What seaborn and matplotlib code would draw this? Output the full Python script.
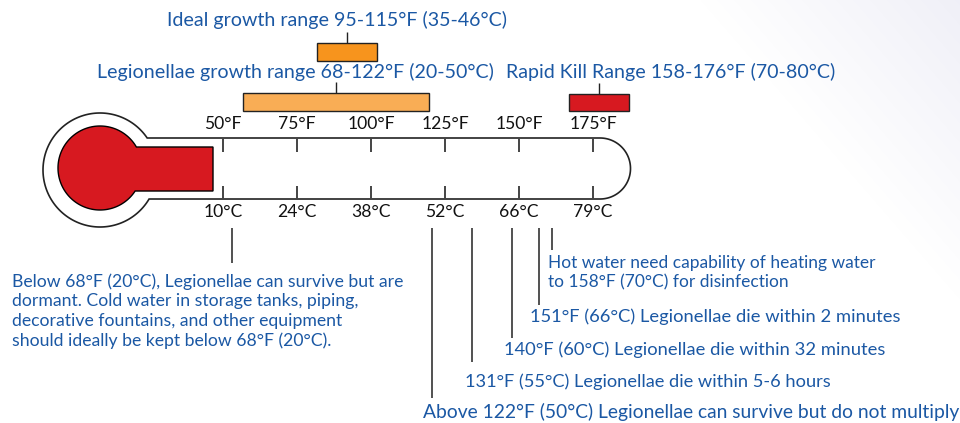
import numpy as np
import matplotlib.pyplot as plt
import seaborn as sns

# temperature scale of the thermometer (deg F)
f_ticks = [50, 75, 100, 125, 150, 175]

# range bars above the thermometer, as drawn in deg F
range_labels = ["Legionellae growth range 68-122°F (20-50°C)",
                "Ideal growth range 95-115°F (35-46°C)",
                "Rapid Kill Range 158-176°F (70-80°C)"]
range_start = [56.8, 81.8, 166.9]
range_end = [119.6, 102.0, 187.2]
range_colors = ["#f9ad55", "#f7941d", "#d71920"]

# notes below the thermometer, pointer position in deg F
note_f = [53.0, 120.6, 134.1, 147.6, 156.6, 161.1]
note_texts = ["Below 68°F (20°C), Legionellae can survive but are\n"
              "dormant. Cold water in storage tanks, piping,\n"
              "decorative fountains, and other equipment\n"
              "should ideally be kept below 68°F (20°C).",
              "Above 122°F (50°C) Legionellae can survive but do not multiply",
              "131°F (55°C) Legionellae die within 5-6 hours",
              "140°F (60°C) Legionellae die within 32 minutes",
              "151°F (66°C) Legionellae die within 2 minutes",
              "Hot water need capability of heating water\n"
              "to 158°F (70°C) for disinfection"]

sns.set_theme(style="white")
plt.rcParams["font.family"] = ["Lato", "DejaVu Sans"]

BLUE = "#1b58a4"
X50, PX_PER_F = 223, 2.96


def px2f(x):
    return 50 + (np.asarray(x, dtype=float) - X50) / PX_PER_F


fig = plt.figure(figsize=(9.6, 4.23), dpi=100)
ax = fig.add_axes([0, 0, 1, 1])
ax.set_xlim(px2f(0), px2f(960))
ax.set_ylim(423, 0)
ax.axis("off")

# faint background shading in the upper right corner
gx, gy = np.meshgrid(np.arange(960), np.arange(423))
shade = np.clip((gx - 700) / 260 - gy / 300, 0, 1) * 0.06
bg = np.dstack([1 - shade, 1 - shade, 1 - shade * 0.5])
ax.imshow(bg, extent=[px2f(0), px2f(960), 423, 0], aspect="auto", zorder=0)

# thermometer glass outline
t = np.linspace(-0.596, 0.534 - 2 * np.pi, 200)
bx = 100 + 57 * np.cos(t)
by = 170 + 57 * np.sin(t)
t2 = np.linspace(np.pi / 2, -np.pi / 2, 100)
ex = 600 + 30.5 * np.cos(t2)
ey = 168.5 + 30.5 * np.sin(t2)
ox = np.concatenate([bx, ex, bx[:1]])
oy = np.concatenate([by, ey, by[:1]])
ax.fill(px2f(ox), oy, facecolor="white", edgecolor="#222222", lw=1.2, zorder=2)

# red mercury
t = np.linspace(-0.5236, 0.580 - 2 * np.pi, 200)
rx = np.concatenate([100 + 42 * np.cos(t), [213, 213]])
ry = np.concatenate([168 + 42 * np.sin(t), [191, 147]])
ax.fill(px2f(rx), ry, facecolor="#d71920", edgecolor="black", lw=1.0, zorder=3)

# ticks and labels
ax.vlines(f_ticks, 138, 152, color="#444444", lw=1.4, zorder=4)
ax.vlines(f_ticks, 186, 199, color="#444444", lw=1.4, zorder=4)
for f in f_ticks:
    c = round((f - 32) * 5 / 9)
    ax.text(f, 124, f"{f}°F", ha="center", va="center", fontsize=12.6, color="#111111")
    ax.text(f, 212, f"{c}°C", ha="center", va="center", fontsize=12.6, color="#111111")

# range bars with labels
bar_y = [(93, 111), (43, 61), (94, 111)]
label_x = [97, 167, 506]
label_y = [72, 20, 72]
for lab, s, e, col, (y0, y1), lx, ly in zip(range_labels, range_start, range_end,
                                            range_colors, bar_y, label_x, label_y):
    ax.barh((y0 + y1) / 2, e - s, left=s, height=y1 - y0, color=col,
            edgecolor="#222222", lw=1.0, zorder=3)
    mid = (s + e) / 2
    ax.vlines(mid, y0 - 11, y0, color="#222222", lw=1.0)
    ax.text(px2f(lx), ly, lab, ha="left", va="center", fontsize=14.1, color=BLUE)

# notes below
line_y = [(228, 263), (228, 398), (228, 362), (228, 338), (228, 305), (228, 250)]
text_x = [12, 423, 465, 504, 530, 548]
text_y = [311, 412, 382, 350, 317, 273]
text_size = [12.7, 13.9, 13.15, 13.2, 13.2, 12.5]
for f, txt, (y0, y1), tx, ty, fs in zip(note_f, note_texts, line_y, text_x, text_y, text_size):
    ax.vlines(f, y0, y1, color="#333333", lw=1.2)
    ax.text(px2f(tx), ty, txt, ha="left", va="center", fontsize=fs, color=BLUE,
            linespacing=1.25)

plt.savefig("out.png", dpi=100)
